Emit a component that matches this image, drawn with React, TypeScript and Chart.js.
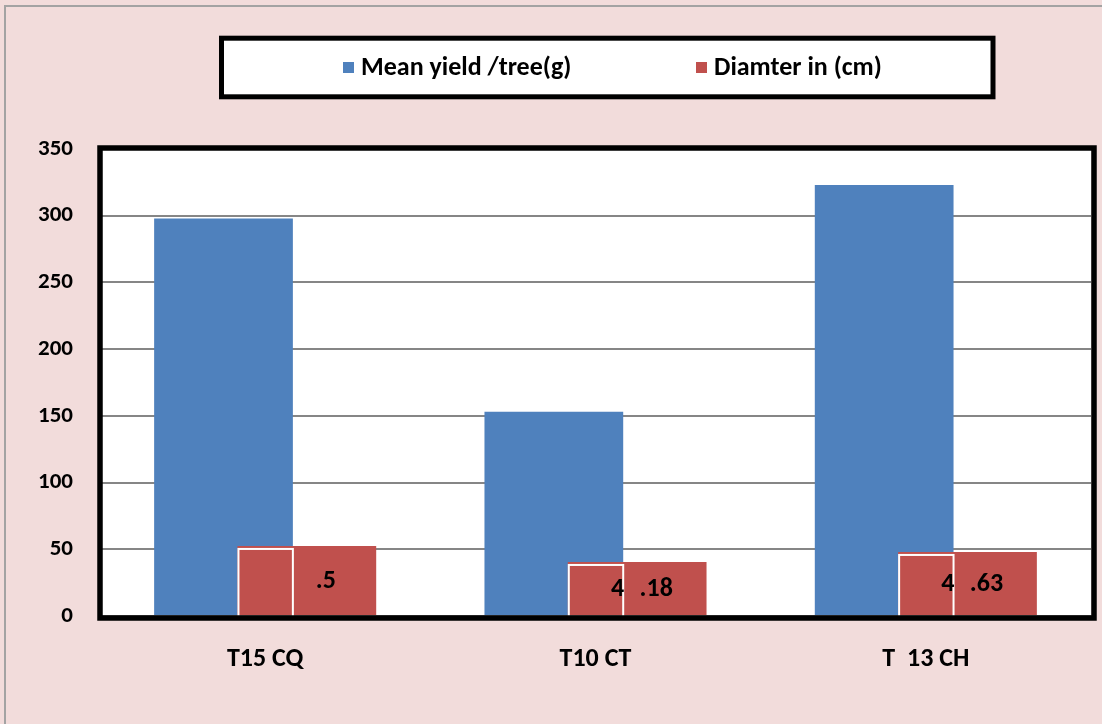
import React, { useEffect, useRef } from "react";
import { Chart, registerables } from "chart.js";

Chart.register(...registerables);

// Categories and series values
const categories = ["T15 CQ", "T10 CT", "T  13 CH"];
const meanYield = [298, 153, 323];
const diameter = [52.5, 40.5, 48];
const diameterLabels = [".5", "4 .18", "4 .63"];
const seriesNames = ["Mean yield /tree(g)", "Diamter in (cm)"];
const seriesColors = ["#4F81BD", "#C0504D"];
const yMin = 0;
const yMax = 350;
const yStep = 50;

const FONT = "Calibri, Carlito, Lato, 'Noto Sans', sans-serif";

const decorPlugin = {
  id: "decor",
  beforeDraw(chart: any) {
    const { ctx, width, height, chartArea: a } = chart;
    ctx.save();
    ctx.fillStyle = "#F2DCDB";
    ctx.fillRect(0, 0, width, height);
    ctx.strokeStyle = "#A3A3A3";
    ctx.lineWidth = 2;
    ctx.beginPath();
    ctx.moveTo(5, height);
    ctx.lineTo(5, 6);
    ctx.lineTo(width, 6);
    ctx.stroke();
    // white plotting area
    ctx.fillStyle = "#FFFFFF";
    ctx.fillRect(a.left, a.top, a.right - a.left, a.bottom - a.top);

    // legend panel
    const box = { left: 221.5, top: 38.2, right: 993, bottom: 96.8 };
    ctx.fillRect(box.left, box.top, box.right - box.left, box.bottom - box.top);
    ctx.strokeStyle = "#000000";
    ctx.lineWidth = 5;
    ctx.strokeRect(box.left, box.top, box.right - box.left, box.bottom - box.top);
    const cy = (box.top + box.bottom) / 2;
    const starts = [box.left + 121.5, box.left + 474.5];
    ctx.font = `bold 26px ${FONT}`;
    ctx.textBaseline = "middle";
    ctx.textAlign = "left";
    chart.data.datasets.forEach((ds: any, i: number) => {
      const x = starts[i];
      ctx.fillStyle = ds.backgroundColor;
      ctx.fillRect(x, cy - 5.5, 11, 11);
      ctx.fillStyle = "#000000";
      ctx.fillText(ds.label, x + 18, cy + 1);
    });
    ctx.restore();
  },
  beforeDatasetsDraw(chart: any) {
    // paint series in dataset order so the diameter bars sit over the yield bars
    chart.data.datasets.forEach((_: any, i: number) => {
      const meta = chart.getDatasetMeta(i);
      if (!meta.hidden) meta.controller.draw();
    });
    return false;
  },
  afterDraw(chart: any) {
    const { ctx, chartArea: a } = chart;
    const blue = chart.getDatasetMeta(0).data;
    const red = chart.getDatasetMeta(1).data;
    ctx.save();
    // white outline where the two bars overlap
    ctx.strokeStyle = "#FFFFFF";
    ctx.lineWidth = 2;
    red.forEach((r: any, i: number) => {
      const b = blue[i];
      const rl = r.x - r.width / 2;
      const br = b.x + b.width / 2;
      ctx.strokeRect(rl + 1, r.y + 3, br - rl - 1, a.bottom - r.y);
    });
    // value labels on the diameter bars
    ctx.font = `bold 26px ${FONT}`;
    ctx.fillStyle = "#000000";
    ctx.textBaseline = "middle";
    red.forEach((r: any, i: number) => {
      const parts = diameterLabels[i].split(" ");
      const cy = (r.y + r.base) / 2 + 1;
      const tail = parts[parts.length - 1];
      ctx.textAlign = "center";
      ctx.fillText(tail, r.x + 19, cy);
      if (parts.length > 1) {
        ctx.textAlign = "right";
        ctx.fillText(parts[0], r.x - 13, cy);
      }
    });
    // thick plot frame
    ctx.strokeStyle = "#000000";
    ctx.lineWidth = 5.5;
    ctx.strokeRect(a.left, a.top - 1, a.right + 3 - a.left, a.bottom + 3 - a.top);
    ctx.restore();
  },
};

export default function App() {
  const canvasRef = useRef<HTMLCanvasElement | null>(null);

  useEffect(() => {
    if (!canvasRef.current) return;
    const chart = new Chart(canvasRef.current, {
      type: "bar",
      data: {
        labels: categories,
        datasets: [
          {
            label: seriesNames[0],
            data: meanYield,
            backgroundColor: seriesColors[0],
            borderWidth: 0,
            categoryPercentage: 0.5045,
            barPercentage: 1.665,
          },
          {
            label: seriesNames[1],
            data: diameter,
            backgroundColor: seriesColors[1],
            borderWidth: 0,
            categoryPercentage: 0.5045,
            barPercentage: 1.665,
          },
        ],
      },
      options: {
        animation: false,
        responsive: false,
        layout: { padding: { top: 149, right: 11, left: 0, bottom: 0 } },
        plugins: {
          legend: { display: false },
          tooltip: { enabled: false },
        },
        scales: {
          x: {
            grid: { display: false, drawTicks: false },
            border: { display: false },
            ticks: {
              color: "#000000",
              padding: 28,
              font: { family: FONT, size: 26, weight: "bold" },
            },
            afterFit(scale: any) {
              scale.height = 108;
            },
          },
          y: {
            min: yMin,
            max: yMax,
            grid: { color: "#868686", lineWidth: 2, drawTicks: false },
            border: { display: false },
            ticks: {
              stepSize: yStep,
              color: "#000000",
              padding: 27,
              font: { family: FONT, size: 23, weight: "bold" },
            },
            afterFit(scale: any) {
              scale.width = 100;
            },
          },
        },
      },
      plugins: [decorPlugin],
    });
    return () => chart.destroy();
  }, []);

  return (
    <div style={{ position: "fixed", left: 0, top: 0, width: 1102, height: 724 }}>
      <canvas ref={canvasRef} width={1102} height={724} style={{ display: "block" }} />
    </div>
  );
}
